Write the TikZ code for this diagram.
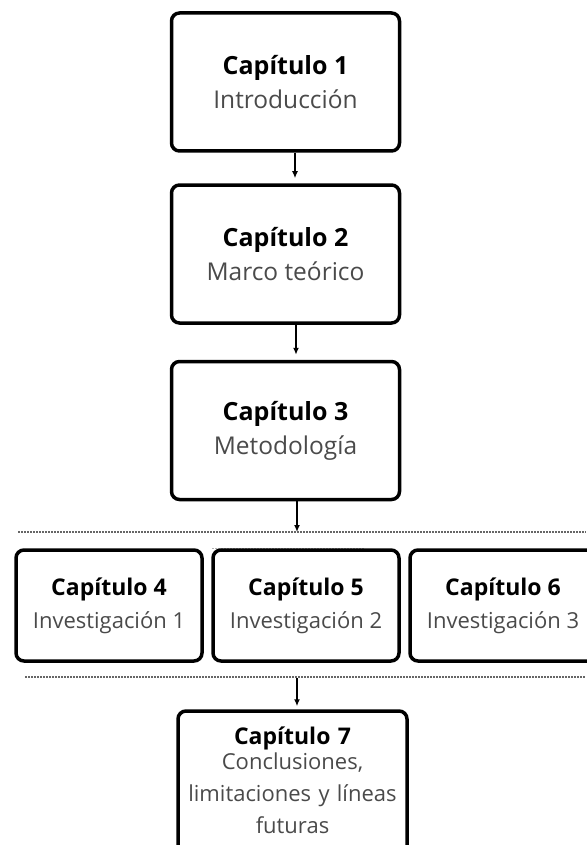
\documentclass[tikz,border=0pt]{standalone}
\usepackage{fontspec}
\setmainfont{Open Sans}
\usepackage{xcolor}
\usetikzlibrary{arrows.meta}

\definecolor{subgray}{HTML}{4A4A4A}

\tikzset{
  chapbox/.style={draw, line width=3.5pt, rounded corners=8pt, align=center, inner sep=0pt},
  bigbox/.style={chapbox, minimum width=228pt, minimum height=138pt,
    font=\fontsize{24.5}{34}\selectfont},
  rowbox/.style={chapbox, minimum width=186pt, minimum height=111pt,
    font=\fontsize{22}{33}\selectfont},
  flow/.style={line width=1.5pt, -{Latex[length=7pt,width=6pt]}, shorten >=5pt},
  sepline/.style={gray!80!black, line width=1.5pt, dash pattern=on 1.5pt off 1.5pt}
}

\newcommand{\ttl}[1]{{\fontsize{25}{34}\selectfont\bfseries #1}}
\newcommand{\ttls}[1]{{\fontsize{23}{33}\selectfont\bfseries #1}}
\newcommand{\subt}[1]{{\color{subgray}#1}}

\begin{document}
\begin{tikzpicture}[x=1pt,y=-1pt]
      \useasboundingbox (0,0) rectangle (586,845);

      % Main chapters
      \node[bigbox] (cap1) at (285.5,82) {\ttl{Capítulo 1}\\\subt{Introducción}};
      \node[bigbox] (cap2) at (285.5,254) {\ttl{Capítulo 2}\\\subt{Marco teórico}};
      \node[bigbox] (cap3) at (285.5,430.5) {\ttl{Capítulo 3}\\\subt{Metodología}};

      % Separator lines
      \coordinate (s1a) at (18,532);
      \coordinate (s1b) at (586,532);
      \coordinate (s2a) at (25,677);
      \coordinate (s2b) at (586,677);
      \draw[sepline] (s1a) -- (s1b);
      \draw[sepline] (s2a) -- (s2b);
      \coordinate (s3a) at (212,548);
      \coordinate (s3b) at (365,548);
      \draw[sepline, gray!60, line width=1pt] (s3a) -- (s3b);

      % Research chapters
      \node[rowbox] (cap4) at (109,605.5) {\ttls{Capítulo 4}\\\subt{Investigación 1}};
      \node[rowbox] (cap5) at (306,605.5) {\ttls{Capítulo 5}\\\subt{Investigación 2}};
      \node[rowbox] (cap6) at (503,605.5) {\ttls{Capítulo 6}\\\subt{Investigación 3}};

      % Conclusions
      \node[chapbox, font=\fontsize{22}{32}\selectfont, anchor=base,
            text width=229pt, text height=29pt, text depth=130pt, inner ysep=4pt]
            (cap7) at (292.5,744)
            {\ttls{Capítulo 7}\\[-7pt]\subt{Conclusiones,}\\\subt{limitaciones y líneas}\\\subt{futuras}};

      % Arrows
      \draw[flow] ([xshift=9.5pt]cap1.south) -- ([xshift=9.5pt]cap2.north);
      \draw[flow] ([xshift=10.5pt]cap2.south) -- ([xshift=10.5pt]cap3.north);
      \coordinate (in1) at (297,532);
      \coordinate (out2) at (297,678);
      \draw[flow, shorten >=0pt] ([xshift=11.5pt]cap3.south) -- (in1);
      \draw[flow, shorten >=3pt] (out2) -- (out2 |- cap7.north);
\end{tikzpicture}
\end{document}
